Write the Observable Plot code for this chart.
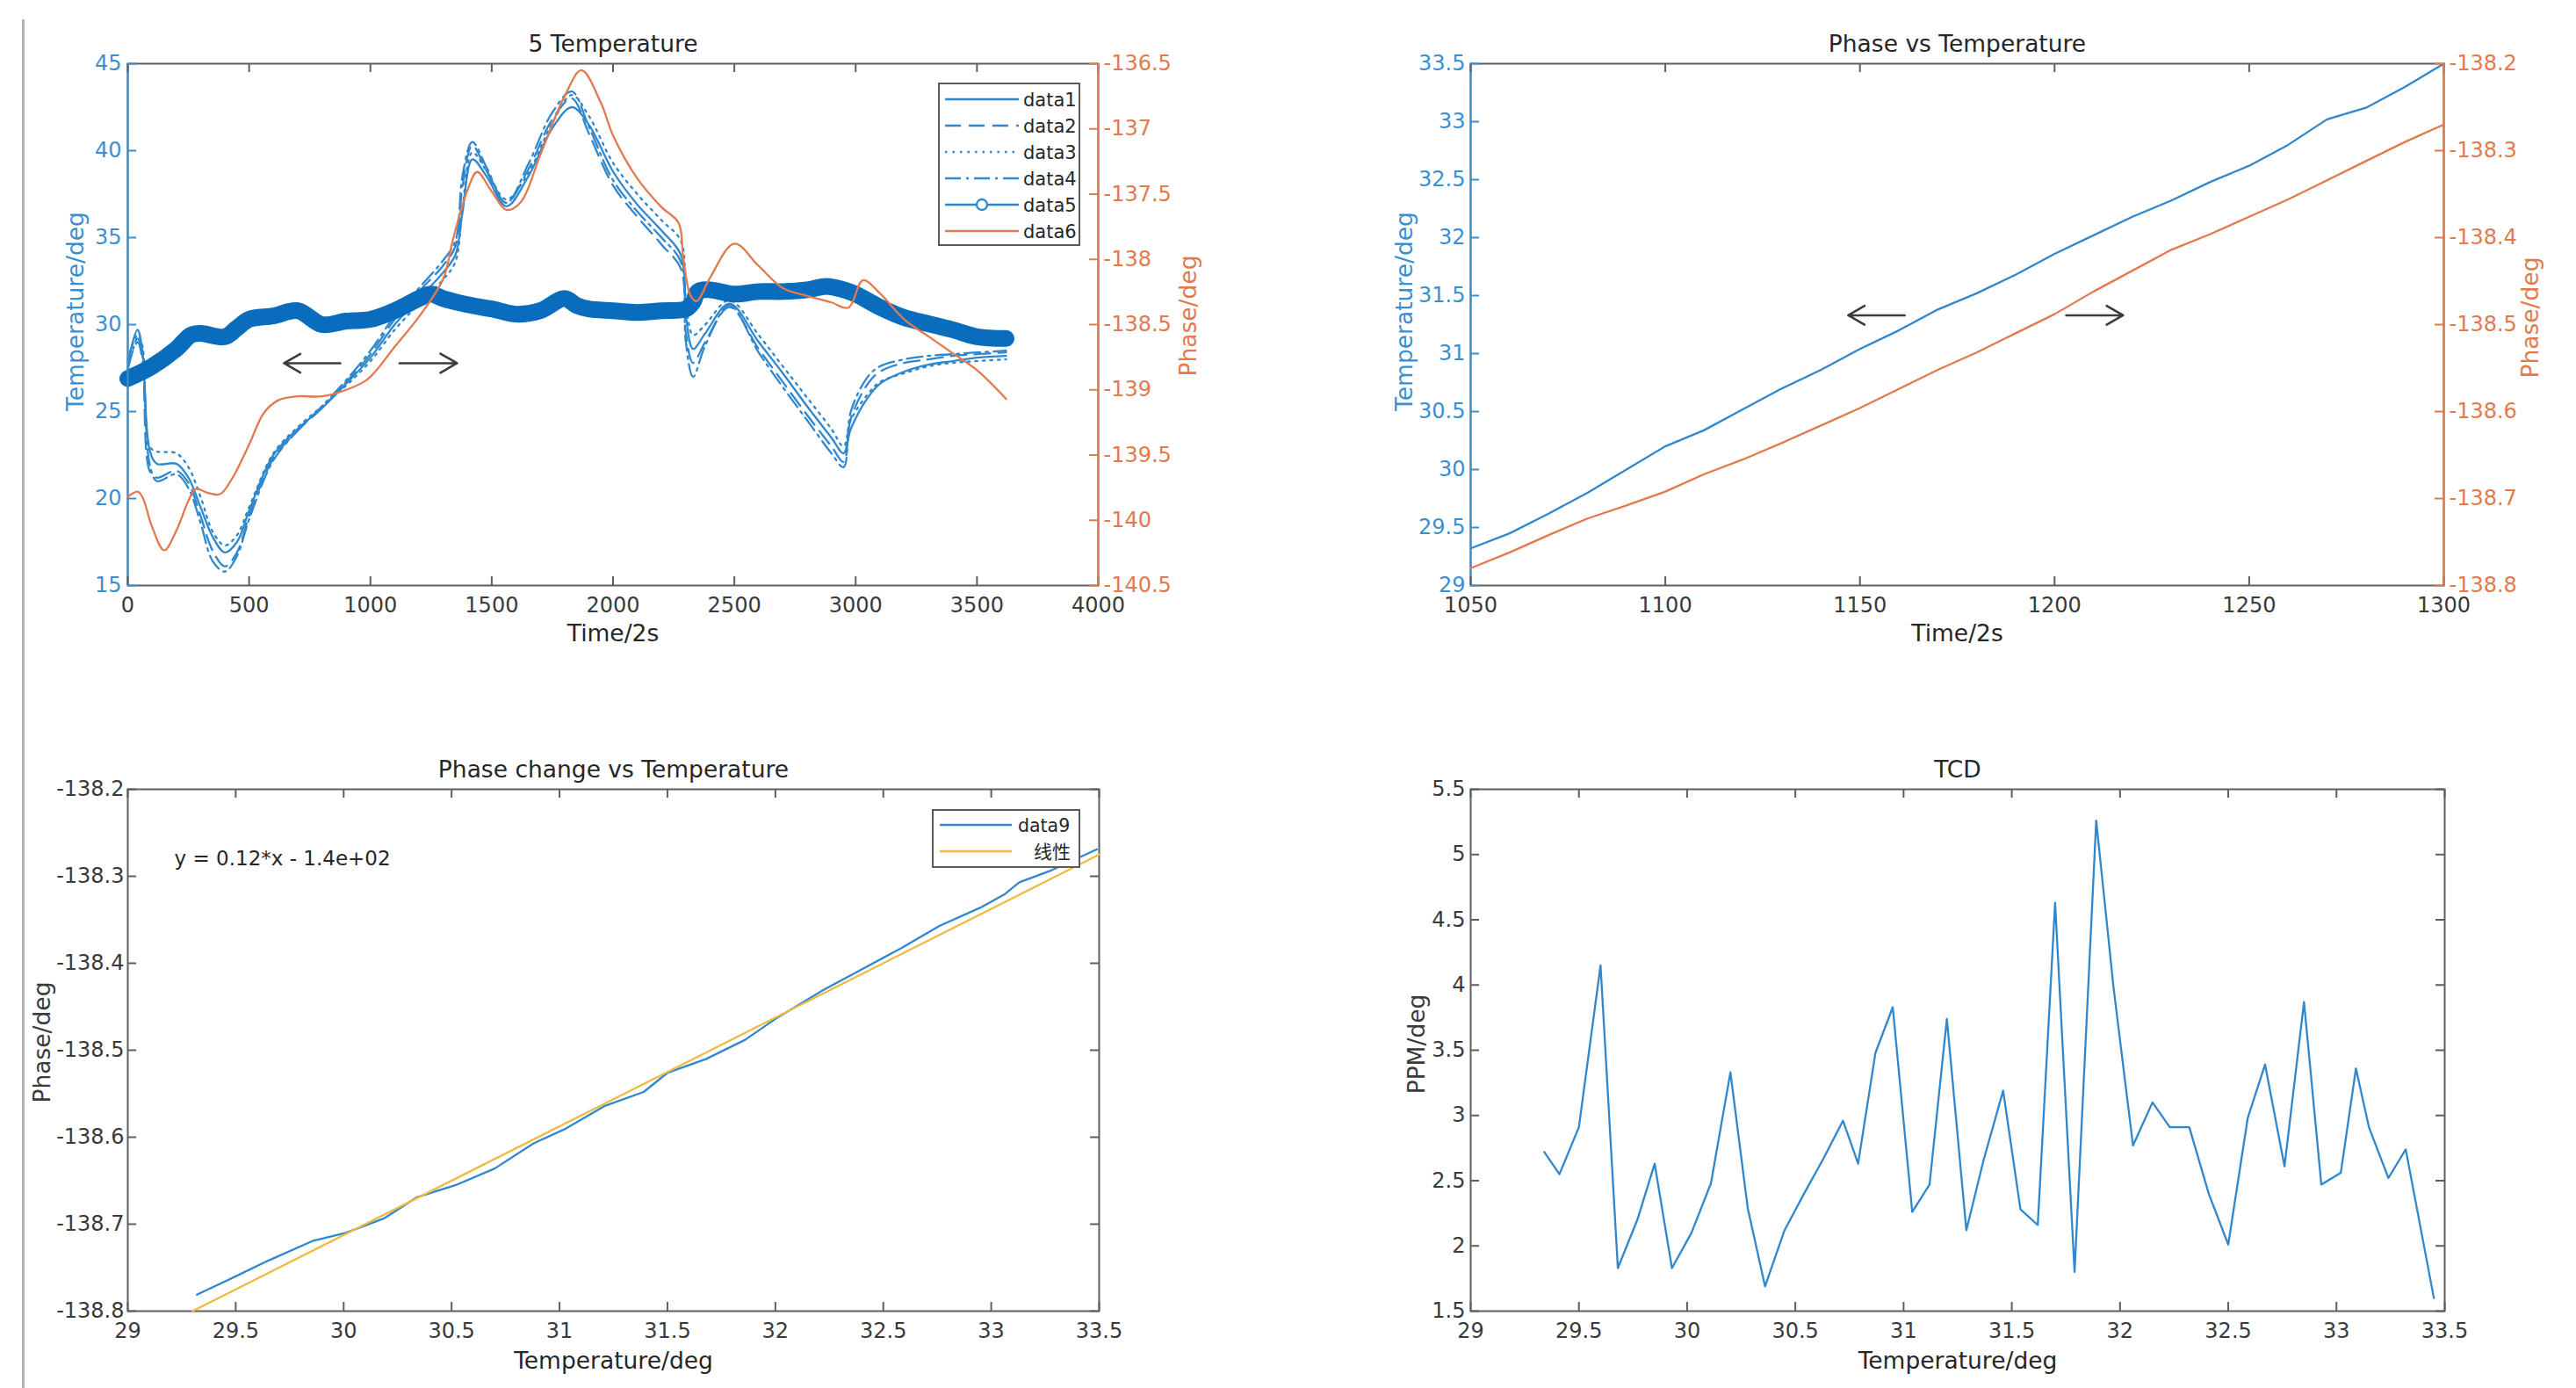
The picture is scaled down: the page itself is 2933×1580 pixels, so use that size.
<!DOCTYPE html>
<html><head><meta charset="utf-8">
<script src="https://cdn.jsdelivr.net/npm/d3@7"></script>
<script src="https://cdn.jsdelivr.net/npm/@observablehq/plot@0.6"></script>
<style>
body{margin:0;background:#fff;}
#root{position:relative;width:2933px;height:1580px;overflow:hidden;background:#fff;font-family:"DejaVu Sans",sans-serif;}
.legend{position:absolute;background:#fff;border:2px solid #5a5a5a;box-sizing:border-box;}
.legend svg{display:block}
#winedge{position:absolute;left:25px;top:22px;width:3px;height:1558px;background:#b4b4b4;}
</style></head><body><div id="root"><div id="winedge"></div></div><script>
// ---------------- Panel 1 : 5 Temperature ----------------
const p1Time = [0, 40, 60, 90, 120, 200, 250, 300, 350, 400, 450, 500, 600, 700, 800, 900, 1000, 1100, 1200, 1300, 1350, 1380, 1420, 1480, 1560, 1650, 1750, 1830, 1900, 2000, 2100, 2200, 2280, 2300, 2330, 2380, 2480, 2600, 2700, 2800, 2900, 2950, 2980, 3050, 3100, 3200, 3300, 3400, 3500, 3620];
const data1 = [27.8, 29.7, 28.5, 22.8, 22.0, 22.0, 21.2, 19.5, 17.8, 16.9, 17.5, 19.3, 22.5, 24.0, 25.2, 26.6, 28.1, 30.0, 31.5, 33.0, 34.0, 36.5, 39.5, 38.5, 36.8, 38.5, 41.3, 42.5, 41.5, 38.8, 36.9, 35.4, 34.0, 30.5, 28.6, 29.5, 31.2, 29.0, 27.2, 25.3, 23.5, 22.6, 24.0, 25.8, 26.6, 27.3, 27.7, 27.9, 28.1, 28.2];
const data2 = [27.6, 29.0, 28.0, 21.6, 21.2, 21.6, 20.9, 19.0, 17.0, 16.1, 16.9, 19.0, 22.3, 23.9, 25.2, 26.7, 28.3, 30.3, 31.9, 33.4, 34.5, 38.0, 40.3, 38.8, 37.0, 38.9, 41.8, 43.0, 41.0, 38.0, 36.2, 34.6, 33.2, 29.5, 27.8, 29.0, 31.0, 28.6, 26.7, 24.8, 23.0, 22.1, 24.6, 26.6, 27.3, 27.8, 28.0, 28.2, 28.3, 28.4];
const data3 = [28.0, 29.4, 28.8, 23.0, 22.7, 22.6, 21.8, 20.1, 18.1, 17.3, 17.9, 19.5, 22.6, 24.1, 25.3, 26.5, 27.9, 29.7, 31.2, 32.6, 33.6, 36.8, 39.9, 38.8, 37.2, 38.7, 41.6, 43.2, 42.0, 39.3, 37.5, 36.0, 34.8, 31.5, 29.4, 30.0, 31.4, 29.4, 27.6, 25.8, 24.0, 23.0, 24.5, 26.0, 26.7, 27.2, 27.6, 27.8, 27.9, 28.0];
const data4 = [27.4, 29.2, 28.2, 22.0, 21.0, 21.4, 20.6, 18.6, 16.4, 15.8, 16.7, 18.8, 22.2, 23.9, 25.3, 26.8, 28.5, 30.5, 32.1, 33.7, 34.8, 38.6, 40.5, 39.0, 37.0, 39.2, 42.2, 43.4, 41.4, 38.3, 36.5, 35.0, 33.6, 29.0, 27.0, 28.8, 31.1, 28.4, 26.4, 24.5, 22.6, 21.8, 25.0, 27.0, 27.6, 28.0, 28.2, 28.3, 28.4, 28.5];
const p1BandTime = [0, 100, 200, 260, 300, 400, 450, 500, 600, 700, 800, 900, 1000, 1100, 1200, 1250, 1300, 1400, 1500, 1600, 1700, 1800, 1850, 1900, 2000, 2100, 2200, 2300, 2330, 2350, 2400, 2500, 2600, 2700, 2800, 2880, 2950, 3000, 3100, 3200, 3300, 3400, 3500, 3620];
const data5 = [26.9, 27.6, 28.6, 29.4, 29.5, 29.3, 29.8, 30.3, 30.5, 30.8, 30.0, 30.2, 30.3, 30.8, 31.5, 31.75, 31.5, 31.15, 30.9, 30.6, 30.8, 31.5, 31.1, 30.9, 30.8, 30.7, 30.8, 30.9, 31.3, 31.9, 32.0, 31.75, 31.9, 31.9, 32.0, 32.2, 32.0, 31.75, 31.0, 30.4, 30.05, 29.7, 29.3, 29.2];
const p1PhaseTime = [0, 40, 60, 100, 150, 200, 250, 280, 330, 380, 430, 500, 560, 620, 700, 800, 900, 980, 1020, 1100, 1200, 1300, 1340, 1400, 1440, 1500, 1560, 1620, 1700, 1800, 1870, 1950, 2000, 2100, 2200, 2270, 2290, 2320, 2345, 2400, 2500, 2600, 2700, 2800, 2900, 2970, 3030, 3100, 3200, 3300, 3400, 3500, 3620];
const data6 = [-139.82, -139.78, -139.82, -140.05, -140.23, -140.08, -139.85, -139.76, -139.79, -139.80, -139.68, -139.42, -139.18, -139.08, -139.05, -139.05, -139.0, -138.93, -138.86, -138.67, -138.44, -138.15, -137.85, -137.47, -137.33, -137.48, -137.62, -137.56, -137.2, -136.75, -136.55, -136.8, -137.05, -137.38, -137.6, -137.72, -138.0, -138.28, -138.32, -138.14, -137.88, -138.05, -138.22, -138.28, -138.33, -138.37, -138.16, -138.26, -138.46, -138.59, -138.72, -138.85, -139.07];
const p1XTicks = [0, 500, 1000, 1500, 2000, 2500, 3000, 3500, 4000];
const p1TempTicks = [15, 20, 25, 30, 35, 40, 45];
const p1PhaseTicks = [-140.5, -140, -139.5, -139, -138.5, -138, -137.5, -137, -136.5];
const p1Legend = ["data1", "data2", "data3", "data4", "data5", "data6"];
const p1ArrowTail = [876, 1120];
const p1ArrowTip = [644, 1357];
const p1ArrowLevel = 27.78;

// ---------------- Panel 2 : Phase vs Temperature ----------------
const p2Time = [1050, 1060, 1070, 1080, 1090, 1100, 1110, 1120, 1130, 1140, 1150, 1160, 1170, 1180, 1190, 1200, 1210, 1220, 1230, 1240, 1250, 1260, 1270, 1280, 1290, 1300];
const p2Temp = [29.32, 29.45, 29.62, 29.80, 30.00, 30.20, 30.34, 30.52, 30.70, 30.86, 31.04, 31.20, 31.38, 31.52, 31.68, 31.86, 32.02, 32.18, 32.32, 32.48, 32.62, 32.80, 33.02, 33.12, 33.30, 33.50];
const p2Phase = [-138.780, -138.762, -138.742, -138.723, -138.708, -138.692, -138.672, -138.655, -138.636, -138.616, -138.596, -138.574, -138.552, -138.532, -138.510, -138.488, -138.462, -138.438, -138.414, -138.396, -138.376, -138.356, -138.334, -138.312, -138.290, -138.270];
const p2XTicks = [1050, 1100, 1150, 1200, 1250, 1300];
const p2TempTicks = [29, 29.5, 30, 30.5, 31, 31.5, 32, 32.5, 33, 33.5];
const p2PhaseTicks = [-138.8, -138.7, -138.6, -138.5, -138.4, -138.3, -138.2];
const p2ArrowTail = [1161.5, 1203.0];
const p2ArrowTip = [1147.0, 1217.6];
const p2ArrowLevel = 31.33;

// ---------------- Panel 3 : Phase change vs Temperature ----------------
const p3Temp = [29.32, 29.50, 29.65, 29.86, 30.01, 30.19, 30.34, 30.52, 30.70, 30.88, 31.03, 31.21, 31.39, 31.50, 31.68, 31.86, 32.00, 32.22, 32.40, 32.58, 32.76, 32.95, 33.06, 33.13, 33.28, 33.49];
const p3Phase = [-138.781, -138.760, -138.742, -138.719, -138.710, -138.693, -138.669, -138.655, -138.636, -138.607, -138.590, -138.564, -138.548, -138.526, -138.510, -138.488, -138.464, -138.431, -138.407, -138.383, -138.357, -138.336, -138.321, -138.307, -138.293, -138.269];
const p3FitTemp = [29.3, 33.5];
const p3FitPhase = [-138.8, -138.275];
const p3XTicks = [29, 29.5, 30, 30.5, 31, 31.5, 32, 32.5, 33, 33.5];
const p3YTicks = [-138.8, -138.7, -138.6, -138.5, -138.4, -138.3, -138.2];
const p3Legend = ["data9", "线性"];
const p3Equation = "y = 0.12*x - 1.4e+02";
const p3EquationAt = [29.216, -138.287];

// ---------------- Panel 4 : TCD ----------------
const p4Temp = [29.34, 29.41, 29.50, 29.60, 29.68, 29.77, 29.85, 29.93, 30.02, 30.11, 30.20, 30.28, 30.36, 30.45, 30.54, 30.63, 30.72, 30.79, 30.87, 30.95, 31.04, 31.12, 31.20, 31.29, 31.37, 31.46, 31.54, 31.62, 31.70, 31.79, 31.89, 31.97, 32.06, 32.15, 32.23, 32.32, 32.41, 32.50, 32.59, 32.67, 32.76, 32.85, 32.93, 33.02, 33.09, 33.15, 33.24, 33.32, 33.45];
const p4TCD = [2.72, 2.55, 2.91, 4.15, 1.83, 2.20, 2.63, 1.83, 2.10, 2.48, 3.33, 2.29, 1.69, 2.12, 2.40, 2.67, 2.96, 2.63, 3.48, 3.83, 2.26, 2.47, 3.74, 2.12, 2.66, 3.19, 2.28, 2.16, 4.63, 1.80, 5.26, 3.98, 2.77, 3.10, 2.91, 2.91, 2.40, 2.01, 2.98, 3.39, 2.61, 3.87, 2.47, 2.56, 3.36, 2.91, 2.52, 2.74, 1.60];
const p4XTicks = [29, 29.5, 30, 30.5, 31, 31.5, 32, 32.5, 33, 33.5];
const p4YTicks = [1.5, 2, 2.5, 3, 3.5, 4, 4.5, 5, 5.5];

// ---------------- styling ----------------
const W = 1466, H = 790, TICK = 10;
const AXBLUE = "#3a8fd0", ORANGE = "#e27a4e", GRAY = "#5e5e5e", TXT = "#3a3a3a", TITLE = "#262626";
const LBLUE = "#2f87cd", BAND = "#0a6cbc", YELLOW = "#efba42";
const FONT = "DejaVu Sans";
const root = document.getElementById("root");

const zip = (xs, ys) => xs.map((x, i) => ({x, y: ys[i]}));
const fmt = d => String(d);
function mount(svg, left, top) {
  svg.style.position = "absolute";
  svg.style.left = left + "px";
  svg.style.top = top + "px";
  root.appendChild(svg);
}
function base(m, xDomain, yDomain, marks, xAxis = true) {
  return Plot.plot({
    width: W, height: H,
    marginLeft: m.l, marginRight: m.r, marginTop: m.t, marginBottom: m.b,
    style: {fontFamily: FONT, fontSize: "24px", background: "transparent", overflow: "visible"},
    x: xAxis ? {domain: xDomain} : {domain: xDomain, axis: null},
    y: {domain: yDomain},
    marks
  });
}
const pw = m => W - m.l - m.r;
const ph = m => H - m.t - m.b;
function ticksX(ticks, m, stroke) {
  return [
    Plot.tickX(ticks, {x: d => d, stroke, strokeWidth: 2, insetTop: ph(m) - TICK}),
    Plot.tickX(ticks, {x: d => d, stroke, strokeWidth: 2, insetBottom: ph(m) - TICK})
  ];
}
function ticksY(ticks, m, stroke, side) {
  const o = side === "left" ? {insetRight: pw(m) - TICK} : {insetLeft: pw(m) - TICK};
  return Plot.tickY(ticks, {y: d => d, stroke, strokeWidth: 2, ...o});
}
const axX = ticks => Plot.axisX({ticks, tickSize: 0, tickPadding: 13, tickFormat: fmt, color: TXT, fontSize: 24, label: null});
const axY = (ticks, anchor, color, pad) => Plot.axisY({anchor, ticks, tickSize: 0, tickPadding: pad, tickFormat: fmt, color, fontSize: 24, label: null});
const title = (t, dy = -14) => Plot.text([t], {text: d => d, frameAnchor: "top", dy, lineAnchor: "bottom", fill: TITLE, fontSize: 26.5});
const xLabel = (t, dy) => Plot.text([t], {text: d => d, frameAnchor: "bottom", dy, lineAnchor: "bottom", fill: TITLE, fontSize: 26.5});
const yLabel = (t, anchor, dx, dy, fill) => Plot.text([t], {text: d => d, frameAnchor: anchor, dx, dy, rotate: -90, textAnchor: "middle", lineAnchor: "bottom", fill, fontSize: 26.5});
const arrows = (tail, tip, level) => Plot.arrow(tail.map((t, i) => ({x1: t, x2: tip[i], y: level})),
  {x1: "x1", x2: "x2", y1: "y", y2: "y", stroke: "#3c3c3c", strokeWidth: 2.6, headLength: 32, headAngle: 60});

// ---------- Panel 1 ----------
{
  const m = {l: 145, r: 216, t: 72, b: 124};
  const xD = [0, 4000];
  const thin = [data1, data2, data3, data4];
  const dashes = [null, "18,9", "2.5,6", "18,6,3,6"];
  const s1 = base(m, xD, [15, 45], [
    Plot.frame({stroke: GRAY, strokeWidth: 2}),
    ...thin.map((d, k) => Plot.line(zip(p1Time, d), {x: "x", y: "y", curve: "catmull-rom", stroke: LBLUE, strokeWidth: 2.3, strokeDasharray: dashes[k]})),
    Plot.line(zip(p1BandTime, data5), {x: "x", y: "y", curve: "catmull-rom", stroke: BAND, strokeWidth: 19, strokeLinejoin: "round", strokeLinecap: "round"}),
    Plot.ruleX([xD[0]], {stroke: AXBLUE, strokeWidth: 2}),
    ...ticksX(p1XTicks, m, GRAY),
    ticksY(p1TempTicks, m, AXBLUE, "left"),
    axX(p1XTicks),
    axY(p1TempTicks, "left", AXBLUE, 7),
    arrows(p1ArrowTail, p1ArrowTip, p1ArrowLevel),
    title("5 Temperature"),
    xLabel("Time/2s", 63),
    yLabel("Temperature/deg", "left", -51, -15, AXBLUE)
  ]);
  mount(s1, 0, 0);
  const s2 = base(m, xD, [-140.5, -136.5], [
    Plot.line(zip(p1PhaseTime, data6), {x: "x", y: "y", curve: "catmull-rom", stroke: ORANGE, strokeWidth: 2.3}),
    Plot.ruleX([xD[1]], {stroke: ORANGE, strokeWidth: 2}),
    ticksY(p1PhaseTicks, m, ORANGE, "right"),
    axY(p1PhaseTicks, "right", ORANGE, 6),
    yLabel("Phase/deg", "right", 111, -10, ORANGE)
  ], false);
  mount(s2, 0, 0);

  // legend
  const lg = document.createElement("div");
  lg.className = "legend";
  Object.assign(lg.style, {left: "1068px", top: "94px", width: "162px", height: "186px"});
  const strokes = [LBLUE, LBLUE, LBLUE, LBLUE, LBLUE, ORANGE];
  const ld = [null, "18,9", "2.5,6", "18,6,3,6", null, null];
  let svg = `<svg width="158" height="182" xmlns="http://www.w3.org/2000/svg">`;
  p1Legend.forEach((name, i) => {
    const y = 17 + i * 30;
    svg += `<line x1="6" x2="90" y1="${y}" y2="${y}" stroke="${strokes[i]}" stroke-width="2.5" ${ld[i] ? `stroke-dasharray="${ld[i]}"` : ""}/>`;
    if (i === 4) svg += `<circle cx="48" cy="${y}" r="6" fill="#fff" stroke="${LBLUE}" stroke-width="2.3"/>`;
    svg += `<text x="95" y="${y + 7.5}" font-family="${FONT}" font-size="21" fill="${TITLE}">${name}</text>`;
  });
  svg += `</svg>`;
  lg.innerHTML = svg;
  root.appendChild(lg);
}

// ---------- Panel 2 ----------
{
  const m = {l: 208, r: 150, t: 72, b: 124};
  const xD = [1050, 1300];
  const s1 = base(m, xD, [29, 33.5], [
    Plot.frame({stroke: GRAY, strokeWidth: 2}),
    Plot.line(zip(p2Time, p2Temp), {x: "x", y: "y", stroke: LBLUE, strokeWidth: 2.3}),
    Plot.ruleX([xD[0]], {stroke: AXBLUE, strokeWidth: 2}),
    ...ticksX(p2XTicks, m, GRAY),
    ticksY(p2TempTicks, m, AXBLUE, "left"),
    axX(p2XTicks),
    axY(p2TempTicks, "left", AXBLUE, 6),
    arrows(p2ArrowTail, p2ArrowTip, p2ArrowLevel),
    title("Phase vs Temperature"),
    xLabel("Time/2s", 63),
    yLabel("Temperature/deg", "left", -67, -15, AXBLUE)
  ]);
  mount(s1, W, 0);
  const s2 = base(m, xD, [-138.8, -138.2], [
    Plot.line(zip(p2Time, p2Phase), {x: "x", y: "y", stroke: ORANGE, strokeWidth: 2.3}),
    Plot.ruleX([xD[1]], {stroke: ORANGE, strokeWidth: 2}),
    ticksY(p2PhaseTicks, m, ORANGE, "right"),
    axY(p2PhaseTicks, "right", ORANGE, 6),
    yLabel("Phase/deg", "right", 107, -8, ORANGE)
  ], false);
  mount(s2, W, 0);
}

// ---------- Panel 3 ----------
{
  const m = {l: 145, r: 215, t: 108, b: 88};
  const s = base(m, [29, 33.5], [-138.8, -138.2], [
    Plot.frame({stroke: GRAY, strokeWidth: 2}),
    Plot.line(zip(p3Temp, p3Phase), {x: "x", y: "y", stroke: LBLUE, strokeWidth: 2.3}),
    Plot.line(zip(p3FitTemp, p3FitPhase), {x: "x", y: "y", stroke: YELLOW, strokeWidth: 2.3}),
    ...ticksX(p3XTicks, m, GRAY),
    ticksY(p3YTicks, m, GRAY, "left"),
    ticksY(p3YTicks, m, GRAY, "right"),
    axX(p3XTicks),
    axY(p3YTicks, "left", TXT, 4),
    Plot.text([p3Equation], {text: d => d, x: () => p3EquationAt[0], y: () => p3EquationAt[1], textAnchor: "start", lineAnchor: "bottom", fill: TITLE, fontSize: 23}),
    title("Phase change vs Temperature"),
    xLabel("Temperature/deg", 65),
    yLabel("Phase/deg", "left", -89, -9, TXT)
  ]);
  mount(s, 0, H);

  const lg = document.createElement("div");
  lg.className = "legend";
  Object.assign(lg.style, {left: "1061px", top: "921px", width: "169px", height: "67px"});
  const st = [LBLUE, YELLOW];
  const tx = [96, 114];
  let svg = `<svg width="165" height="63" xmlns="http://www.w3.org/2000/svg">`;
  p3Legend.forEach((name, i) => {
    const y = 16 + i * 30;
    svg += `<line x1="7" x2="89" y1="${y}" y2="${y}" stroke="${st[i]}" stroke-width="2.5"/>`;
    svg += `<text x="${tx[i]}" y="${y + 7.5}" font-family="${i ? "Noto Sans CJK SC" : FONT}" font-size="${i ? 21 : 20.5}" fill="${TITLE}">${name}</text>`;
  });
  svg += `</svg>`;
  lg.innerHTML = svg;
  root.appendChild(lg);
}

// ---------- Panel 4 ----------
{
  const m = {l: 208, r: 149, t: 108, b: 88};
  const s = base(m, [29, 33.5], [1.5, 5.5], [
    Plot.frame({stroke: GRAY, strokeWidth: 2}),
    Plot.line(zip(p4Temp, p4TCD), {x: "x", y: "y", stroke: LBLUE, strokeWidth: 2.3}),
    ...ticksX(p4XTicks, m, GRAY),
    ticksY(p4YTicks, m, GRAY, "left"),
    ticksY(p4YTicks, m, GRAY, "right"),
    axX(p4XTicks),
    axY(p4YTicks, "left", TXT, 6),
    title("TCD"),
    xLabel("Temperature/deg", 65),
    yLabel("PPM/deg", "left", -53, -7, TXT)
  ]);
  mount(s, W, H);
}
</script></body></html>
